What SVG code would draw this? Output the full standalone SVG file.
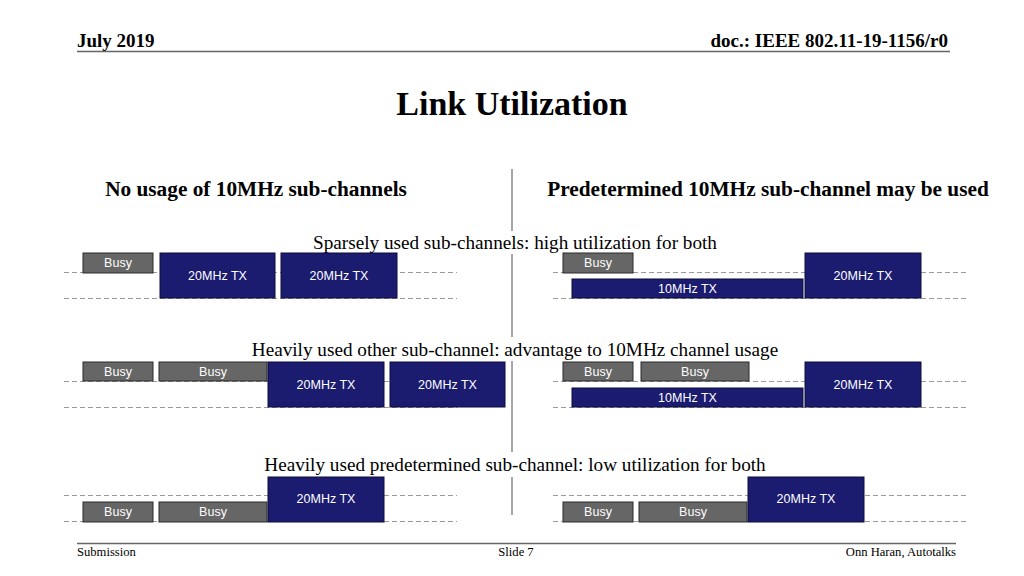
<svg xmlns="http://www.w3.org/2000/svg" width="1024" height="576" viewBox="0 0 1024 576">
<style>
.hdr{font-family:"Liberation Serif",serif;font-weight:bold;fill:#000}
.ftr{font-family:"Liberation Serif",serif;font-size:12.6px;fill:#000}
.head{font-family:"Liberation Serif",serif;font-weight:bold;font-size:21.3px;fill:#000;text-anchor:middle}
.sub{font-family:"Liberation Serif",serif;font-size:19.2px;fill:#000;text-anchor:middle}
.busy rect{fill:#666666;stroke:#2a2a2a;stroke-width:1}
.tx rect{fill:#1b1b70;stroke:#0c0c3a;stroke-width:1}
.busy text,.tx text{font-family:"Liberation Sans",Arial,sans-serif;font-size:12.5px;fill:#ffffff;text-anchor:middle}
.dash{stroke:#9a9a9a;stroke-width:1;stroke-dasharray:5 3;fill:none}
.rule{stroke:#666;stroke-width:1.5}
.div{stroke:#8a8a8a;stroke-width:1.5}
</style>
<rect width="1024" height="576" fill="#ffffff"/>
<g id="header">
<text class="hdr" x="77" y="47" font-size="19">July 2019</text>
<text class="hdr" x="948" y="47" font-size="19" text-anchor="end">doc.: IEEE 802.11-19-1156/r0</text>
<line class="rule" x1="77" y1="51.5" x2="950" y2="51.5"/>
</g>
<text id="title" x="512" y="115" font-family="Liberation Serif,serif" font-weight="bold" font-size="34" text-anchor="middle">Link Utilization</text>
<text class="head" x="256" y="196">No usage of 10MHz sub-channels</text>
<text class="head" x="768" y="196">Predetermined 10MHz sub-channel may be used</text>
<g id="divider">
<line class="div" x1="512" y1="169" x2="512" y2="231"/>
<line class="div" x1="512" y1="254" x2="512" y2="337"/>
<line class="div" x1="512" y1="361" x2="512" y2="452"/>
<line class="div" x1="512" y1="477" x2="512" y2="515"/>
</g>
<text class="sub" x="515" y="249">Sparsely used sub-channels: high utilization for both</text>
<text class="sub" x="515" y="356">Heavily used other sub-channel: advantage to 10MHz channel usage</text>
<text class="sub" x="515" y="471">Heavily used predetermined sub-channel: low utilization for both</text>
<g id="connectors">
<line class="dash" x1="64" y1="272.5" x2="457" y2="272.5"/>
<line class="dash" x1="64" y1="298.5" x2="457" y2="298.5"/>
<line class="dash" x1="553" y1="272.5" x2="968" y2="272.5"/>
<line class="dash" x1="553" y1="298.5" x2="968" y2="298.5"/>
<line class="dash" x1="64" y1="381.5" x2="457" y2="381.5"/>
<line class="dash" x1="64" y1="407.5" x2="457" y2="407.5"/>
<line class="dash" x1="553" y1="381.5" x2="968" y2="381.5"/>
<line class="dash" x1="553" y1="407.5" x2="968" y2="407.5"/>
<line class="dash" x1="64" y1="495.5" x2="457" y2="495.5"/>
<line class="dash" x1="64" y1="521.5" x2="457" y2="521.5"/>
<line class="dash" x1="553" y1="495.5" x2="968" y2="495.5"/>
<line class="dash" x1="553" y1="521.5" x2="968" y2="521.5"/>
</g>
<g id="r1l-busy" class="busy"><rect x="83" y="253" width="70" height="20"/><text x="118" y="267">Busy</text></g>
<g id="r1l-tx1" class="tx"><rect x="160" y="253" width="115" height="45"/><text x="217.5" y="280">20MHz TX</text></g>
<g id="r1l-tx2" class="tx"><rect x="281" y="253" width="116" height="45"/><text x="339" y="280">20MHz TX</text></g>
<g id="r1r-busy" class="busy"><rect x="563" y="253" width="70" height="20"/><text x="598" y="267">Busy</text></g>
<g id="r1r-tx10" class="tx"><rect x="572" y="279" width="231" height="19"/><text x="687.5" y="293">10MHz TX</text></g>
<g id="r1r-tx20" class="tx"><rect x="805" y="253" width="116" height="45"/><text x="863" y="280">20MHz TX</text></g>
<g id="r2l-busy1" class="busy"><rect x="83" y="362" width="70" height="19"/><text x="118" y="376">Busy</text></g>
<g id="r2l-busy2" class="busy"><rect x="159" y="362" width="108" height="19"/><text x="213" y="376">Busy</text></g>
<g id="r2l-tx1" class="tx"><rect x="268" y="362" width="116" height="45"/><text x="326" y="389">20MHz TX</text></g>
<g id="r2l-tx2" class="tx"><rect x="390" y="362" width="115" height="45"/><text x="447.5" y="389">20MHz TX</text></g>
<g id="r2r-busy1" class="busy"><rect x="563" y="362" width="70" height="19"/><text x="598" y="376">Busy</text></g>
<g id="r2r-busy2" class="busy"><rect x="641" y="362" width="108" height="19"/><text x="695" y="376">Busy</text></g>
<g id="r2r-tx10" class="tx"><rect x="572" y="388" width="231" height="19"/><text x="687.5" y="402">10MHz TX</text></g>
<g id="r2r-tx20" class="tx"><rect x="805" y="362" width="116" height="45"/><text x="863" y="389">20MHz TX</text></g>
<g id="r3l-busy1" class="busy"><rect x="83" y="502" width="70" height="20"/><text x="118" y="516">Busy</text></g>
<g id="r3l-busy2" class="busy"><rect x="159" y="502" width="108" height="20"/><text x="213" y="516">Busy</text></g>
<g id="r3l-tx" class="tx"><rect x="268" y="477" width="116" height="45"/><text x="326" y="503">20MHz TX</text></g>
<g id="r3r-busy1" class="busy"><rect x="563" y="502" width="70" height="20"/><text x="598" y="516">Busy</text></g>
<g id="r3r-busy2" class="busy"><rect x="639" y="502" width="108" height="20"/><text x="693" y="516">Busy</text></g>
<g id="r3r-tx" class="tx"><rect x="748" y="477" width="116" height="45"/><text x="806" y="503">20MHz TX</text></g>
<g id="footer">
<line class="rule" x1="77" y1="543.5" x2="956" y2="543.5"/>
<text class="ftr" x="77" y="556">Submission</text>
<text class="ftr" x="516" y="556" text-anchor="middle">Slide 7</text>
<text class="ftr" x="956" y="556" text-anchor="end">Onn Haran, Autotalks</text>
</g>
</svg>
